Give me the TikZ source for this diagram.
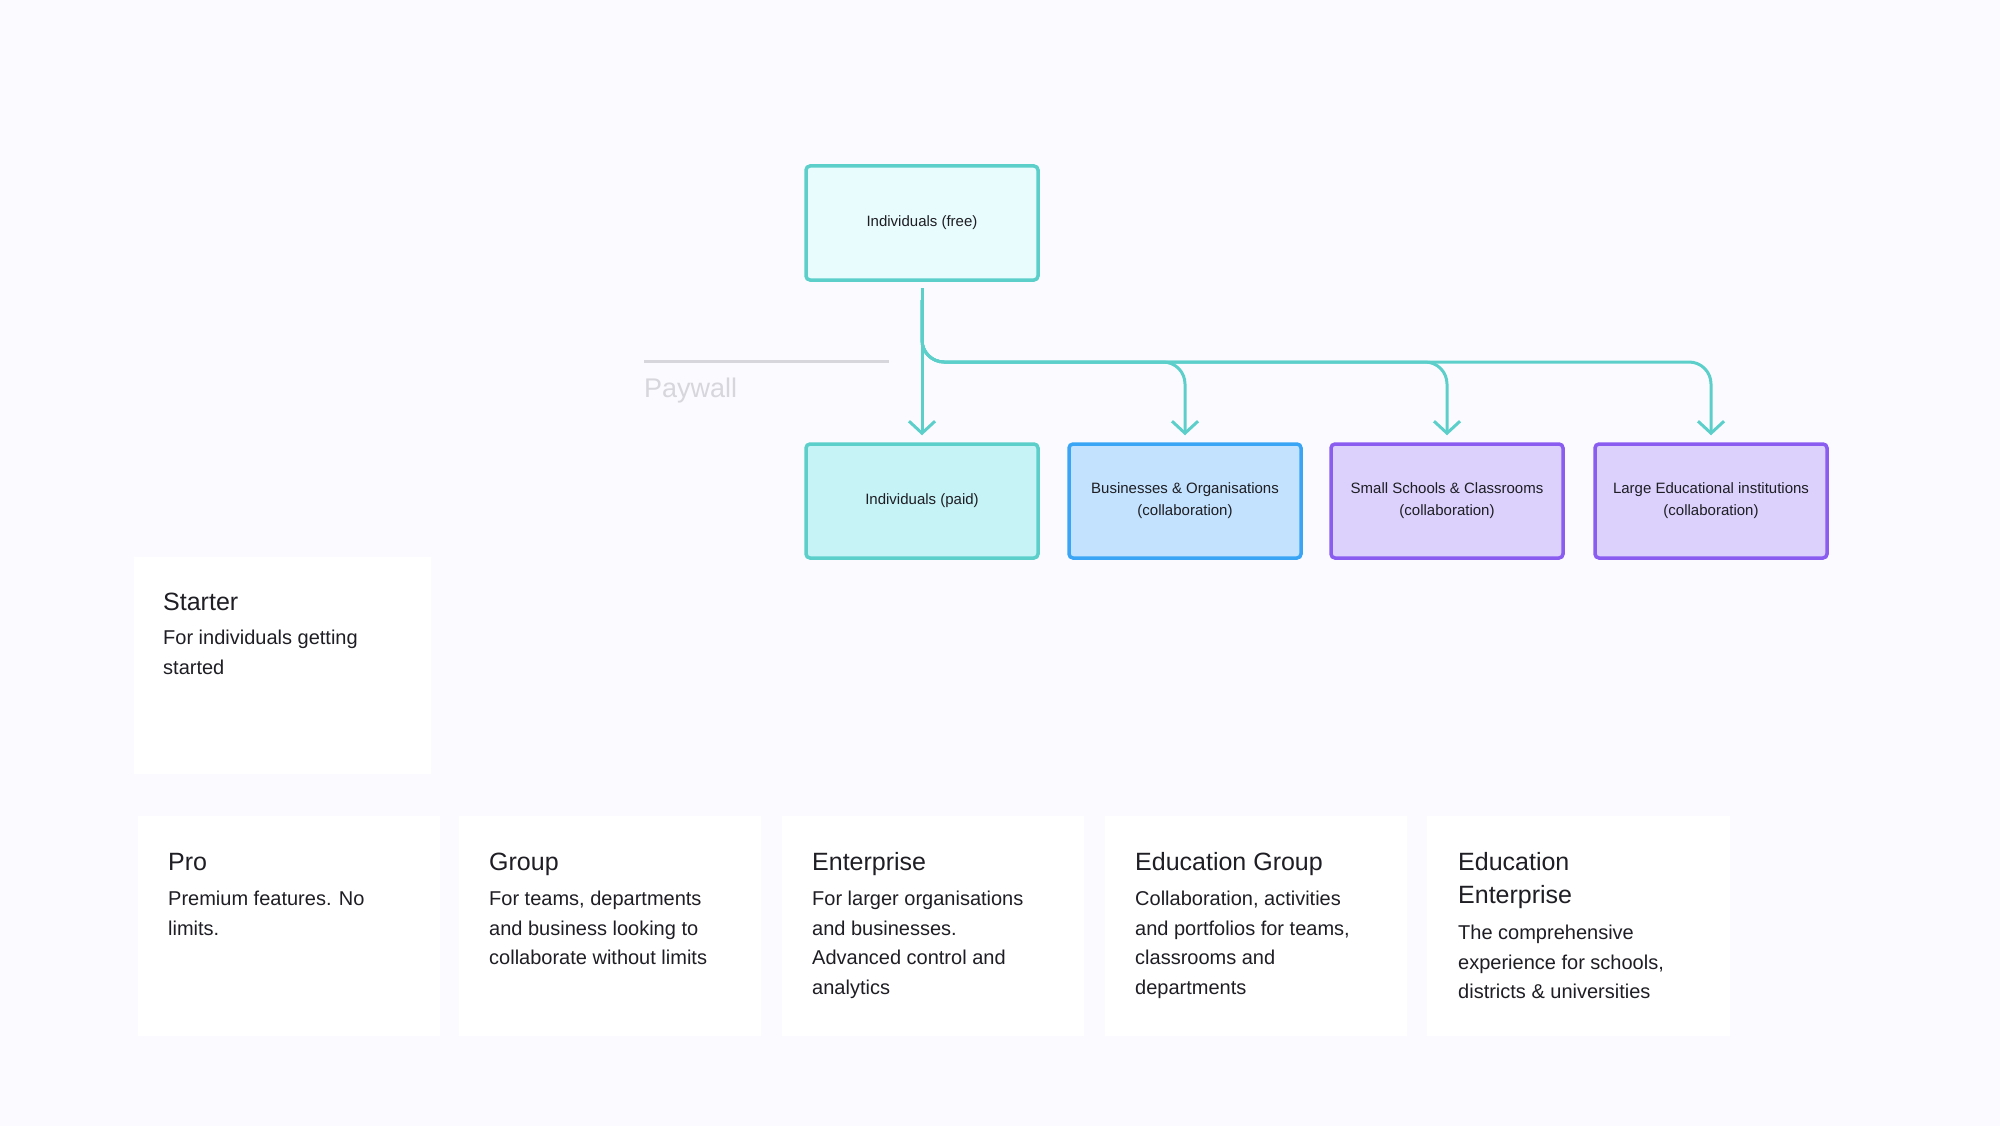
\documentclass[tikz,border=0pt]{standalone}
\usepackage{fontspec}
\setmainfont{Liberation Sans}
\usetikzlibrary{arrows.meta}
\definecolor{bg}{HTML}{FBFBFF}
\definecolor{teal}{HTML}{5CCFCB}
\definecolor{tealA}{HTML}{E8FCFD}
\definecolor{tealB}{HTML}{C6F3F6}
\definecolor{blueS}{HTML}{3AA5F5}
\definecolor{blueF}{HTML}{C3E2FD}
\definecolor{purS}{HTML}{8A5CF0}
\definecolor{purF}{HTML}{DCD1FC}
\definecolor{txt}{HTML}{1E1E24}
\definecolor{pay}{HTML}{D6D6DC}
\begin{document}
\begin{tikzpicture}[x=1pt,y=-1pt,
 box/.style={draw,line width=3.5pt,rounded corners=4pt,minimum width=232pt,minimum height=114pt,align=center,font=\fontsize{15}{22}\selectfont,text=txt},
 card/.style={fill=white,draw=none},
 ttl/.style={anchor=base west,font=\fontsize{25}{30}\selectfont,text=txt,inner sep=0},
 bdy/.style={anchor=north west,font=\fontsize{20}{29.5}\selectfont,text=txt,inner sep=0,align=left},
 con/.style={draw=teal,line width=3pt,rounded corners=22pt},
 arr/.style={-{Straight Barb[length=12pt,width=26pt,line width=3pt]}}]
\fill[bg] (0,0) rectangle (2000,1126);
\node[box,draw=teal,fill=tealA] (free) at (922,223) {Individuals (free)};
\node[box,draw=teal,fill=tealB] (paid) at (922,501) {Individuals (paid)};
\node[box,draw=blueS,fill=blueF] (bus) at (1185,501) {Businesses \& Organisations\\(collaboration)};
\node[box,draw=purS,fill=purF] (small) at (1447,501) {Small Schools \& Classrooms\\(collaboration)};
\node[box,draw=purS,fill=purF] (large) at (1711,501) {Large Educational institutions\\(collaboration)};
\coordinate (j) at (922,300);
\draw[con,arr] ([yshift=-6pt]free.south) -- ([yshift=7pt]paid.north);
\draw[con,arr] (j) -- (922,362) -- (1185,362) -- ([yshift=7pt]bus.north);
\draw[con,arr] (j) -- (922,362) -- (1447,362) -- ([yshift=7pt]small.north);
\draw[con,arr] (j) -- (922,362) -- (1711,362) -- ([yshift=7pt]large.north);
\draw[pay,line width=3pt] (644,361) -- (889,361);
\node[anchor=base west,inner sep=0,text=pay,font=\fontsize{27}{30}\selectfont] (pw) at (644,397) {Paywall};
% cards
\node[card,minimum width=297pt,minimum height=217pt,anchor=north west] (c0) at (134,557) {};
\node[ttl] (t0) at (163,610) {Starter};
\node[bdy] (b0) at (163,630) {For individuals getting\\started};
\foreach \x/\n/\t/\b in {138/c1/Pro/{Premium features. No\\limits.},
 459/c2/Group/{For teams, departments\\and business looking to\\collaborate without limits},
 782/c3/Enterprise/{For larger organisations\\and businesses.\\Advanced control and\\analytics},
 1105/c4/Education Group/{Collaboration, activities\\and portfolios for teams,\\classrooms and\\departments}}{
 \node[card,minimum width=302pt,minimum height=220pt,anchor=north west] (\n) at (\x,816) {};
 \node[ttl] (t\n) at (\x+30,870) {\t};
 \node[bdy] (b\n) at (\x+30,891) {\b};
}
\node[card,minimum width=303pt,minimum height=220pt,anchor=north west] (c5) at (1427,816) {};
\node[ttl,align=left,anchor=north west,font=\fontsize{25}{33}\selectfont] (t5) at (1458,852) {Education\\Enterprise};
\node[bdy] (b5) at (1458,925) {The comprehensive\\experience for schools,\\districts \& universities};
\end{tikzpicture}
\end{document}
